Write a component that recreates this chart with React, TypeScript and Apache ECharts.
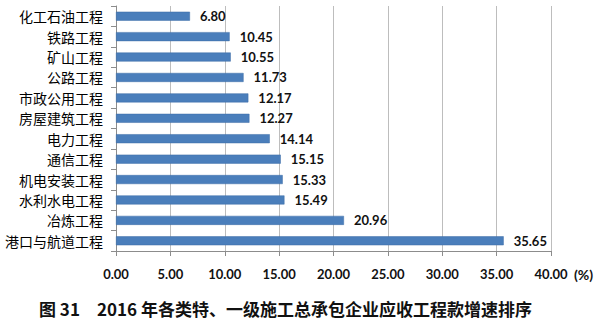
import React, { useEffect, useRef } from "react";
import * as echarts from "echarts";

const categories = [
  "化工石油工程",
  "铁路工程",
  "矿山工程",
  "公路工程",
  "市政公用工程",
  "房屋建筑工程",
  "电力工程",
  "通信工程",
  "机电安装工程",
  "水利水电工程",
  "冶炼工程",
  "港口与航道工程",
];
const values = [6.8, 10.45, 10.55, 11.73, 12.17, 12.27, 14.14, 15.15, 15.33, 15.49, 20.96, 35.65];
const titleFigure = "图 31";
const titleText = "2016 年各类特、一级施工总承包企业应收工程款增速排序";
const unitLabel = "(%)";

export default function App() {
  const ref = useRef<HTMLDivElement>(null);
  useEffect(() => {
    document.body.style.margin = "0";
    const chart = echarts.init(ref.current!, null, { renderer: "svg" });
    chart.setOption({
      animation: false,
      backgroundColor: "#ffffff",
      grid: { left: 116, right: 57, top: 6, bottom: 77, containLabel: false },
      xAxis: {
        type: "value",
        min: 0,
        max: 40,
        interval: 5,
        axisLine: { show: true, lineStyle: { color: "#8c8c8c", width: 1 } },
        axisTick: { show: true, length: 5, lineStyle: { color: "#8c8c8c" } },
        splitLine: { show: true, lineStyle: { color: "#bdbdbd", width: 1 } },
        axisLabel: {
          formatter: (v: number) => v.toFixed(2),
          fontFamily: "Lato",
          fontSize: 13,
          fontWeight: "bold",
          color: "#111",
          margin: 16,
        },
      },
      yAxis: {
        type: "category",
        data: categories,
        inverse: true,
        axisLine: { show: true, lineStyle: { color: "#8c8c8c", width: 1 } },
        axisTick: { show: true, length: 5, lineStyle: { color: "#8c8c8c" } },
        axisLabel: {
          fontFamily: "Noto Sans CJK SC",
          fontSize: 14,
          color: "#000",
          margin: 13,
        },
      },
      series: [
        {
          type: "bar",
          data: values,
          barWidth: 9,
          itemStyle: { color: "#4a7ebb", borderColor: "#3d6da6", borderWidth: 0.5 },
          label: {
            show: true,
            position: "right",
            distance: 10,
            formatter: (p: any) => Number(p.value).toFixed(2),
            fontFamily: "Lato",
            fontSize: 13,
            fontWeight: "bold",
            color: "#111",
          },
        },
      ],
      graphic: [
        {
          type: "text",
          left: 574,
          top: 267,
          style: { text: unitLabel, fontFamily: "Lato", fontSize: 14, fontWeight: "bold", fill: "#111" },
        },
        {
          type: "text",
          left: 39,
          top: 300,
          style: { text: titleFigure, fontFamily: "Noto Sans CJK SC", fontSize: 17, fontWeight: "bold", fill: "#111" },
        },
        {
          type: "text",
          left: 97,
          top: 300,
          style: { text: titleText, fontFamily: "Noto Sans CJK SC", fontSize: 17, fontWeight: "bold", fill: "#111" },
        },
      ],
    });
    return () => chart.dispose();
  }, []);
  return <div ref={ref} style={{ width: 608, height: 328 }} />;
}
